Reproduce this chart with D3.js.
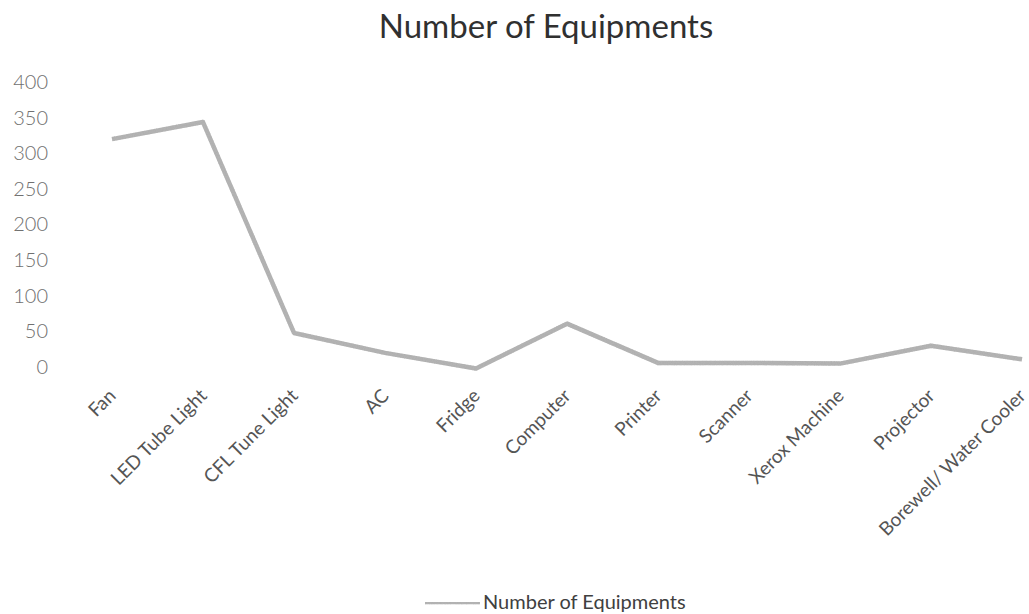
<!DOCTYPE html>
<html>
<head>
<meta charset="utf-8">
<script src="https://cdn.jsdelivr.net/npm/d3@7"></script>
<style>
  html, body { margin: 0; padding: 0; background: #fff; }
  svg { display: block; }
</style>
</head>
<body>
<svg id="chart" width="1029" height="614"></svg>
<script>
// Equipment inventory
const categories = ["Fan", "LED Tube Light", "CFL Tune Light", "AC", "Fridge", "Computer",
                    "Printer", "Scanner", "Xerox Machine", "Projector", "Borewell/ Water Cooler"];
const counts = [324, 348, 52, 24, 2, 65, 10, 10, 9, 34, 15];
const yTicks = [0, 50, 100, 150, 200, 250, 300, 350, 400];
const seriesName = "Number of Equipments";
const titleText = "Number of Equipments";

const W = 1029, H = 614;
const svg = d3.select("#chart");
const font = "Lato, 'Open Sans', sans-serif";

// Grainy texture for the series stroke
const defs = svg.append("defs");
const f = defs.append("filter").attr("id", "grain")
  .attr("filterUnits", "userSpaceOnUse")
  .attr("x", 0).attr("y", 0).attr("width", W).attr("height", H);
f.append("feTurbulence").attr("type", "fractalNoise").attr("baseFrequency", 0.9)
  .attr("numOctaves", 2).attr("seed", 3).attr("result", "noise");
f.append("feColorMatrix").attr("in", "noise").attr("type", "matrix")
  .attr("values", "0 0 0 0 0.42  0 0 0 0 0.42  0 0 0 0 0.42  0 0 0 1.6 -0.55")
  .attr("result", "dots");
f.append("feComposite").attr("in", "dots").attr("in2", "SourceGraphic")
  .attr("operator", "in").attr("result", "speck");
const m = f.append("feMerge");
m.append("feMergeNode").attr("in", "SourceGraphic");
m.append("feMergeNode").attr("in", "speck");

const x = d3.scalePoint().domain(categories).range([112, 1022]);
const y = d3.scaleLinear().domain([0, 400]).range([370, 85]);

// Title
svg.append("text")
  .attr("x", 546).attr("y", 38)
  .attr("text-anchor", "middle")
  .attr("font-family", font).attr("font-size", 33)
  .attr("fill", "#303030")
  .text(titleText);

// Value axis (labels only)
const yAxis = svg.append("g")
  .attr("transform", "translate(48,-3)")
  .call(d3.axisLeft(y).tickValues(yTicks).tickSize(0).tickPadding(0));
yAxis.select(".domain").remove();
yAxis.selectAll("text")
  .attr("font-family", font).attr("font-size", 20).attr("font-weight", 300)
  .attr("fill", "#707070");

// Category labels, rotated
svg.append("g").selectAll("text")
  .data(categories)
  .join("text")
  .attr("transform", d => `translate(${x(d) + 5},397) rotate(-45)`)
  .attr("text-anchor", "end")
  .attr("font-family", font).attr("font-size", 19)
  .attr("fill", "#555")
  .text(d => d);

// Series line
const line = d3.line()
  .x((d, i) => x(categories[i]))
  .y(d => y(d));

svg.append("path")
  .datum(counts)
  .attr("d", line)
  .attr("fill", "none")
  .attr("stroke", "#b4b4b4")
  .attr("stroke-width", 4.5)
  .attr("stroke-linejoin", "round")
  .attr("filter", "url(#grain)");

// Legend
const lg = svg.append("g").attr("transform", "translate(425,602)");
lg.append("line")
  .attr("x1", 0).attr("x2", 55).attr("y1", 0).attr("y2", 0)
  .attr("stroke", "#b4b4b4").attr("stroke-width", 4.5)
  .attr("filter", "url(#grain)");
lg.append("text")
  .attr("x", 58).attr("y", 7)
  .attr("font-family", font).attr("font-size", 20)
  .attr("fill", "#404040")
  .text(seriesName);
</script>
</body>
</html>
